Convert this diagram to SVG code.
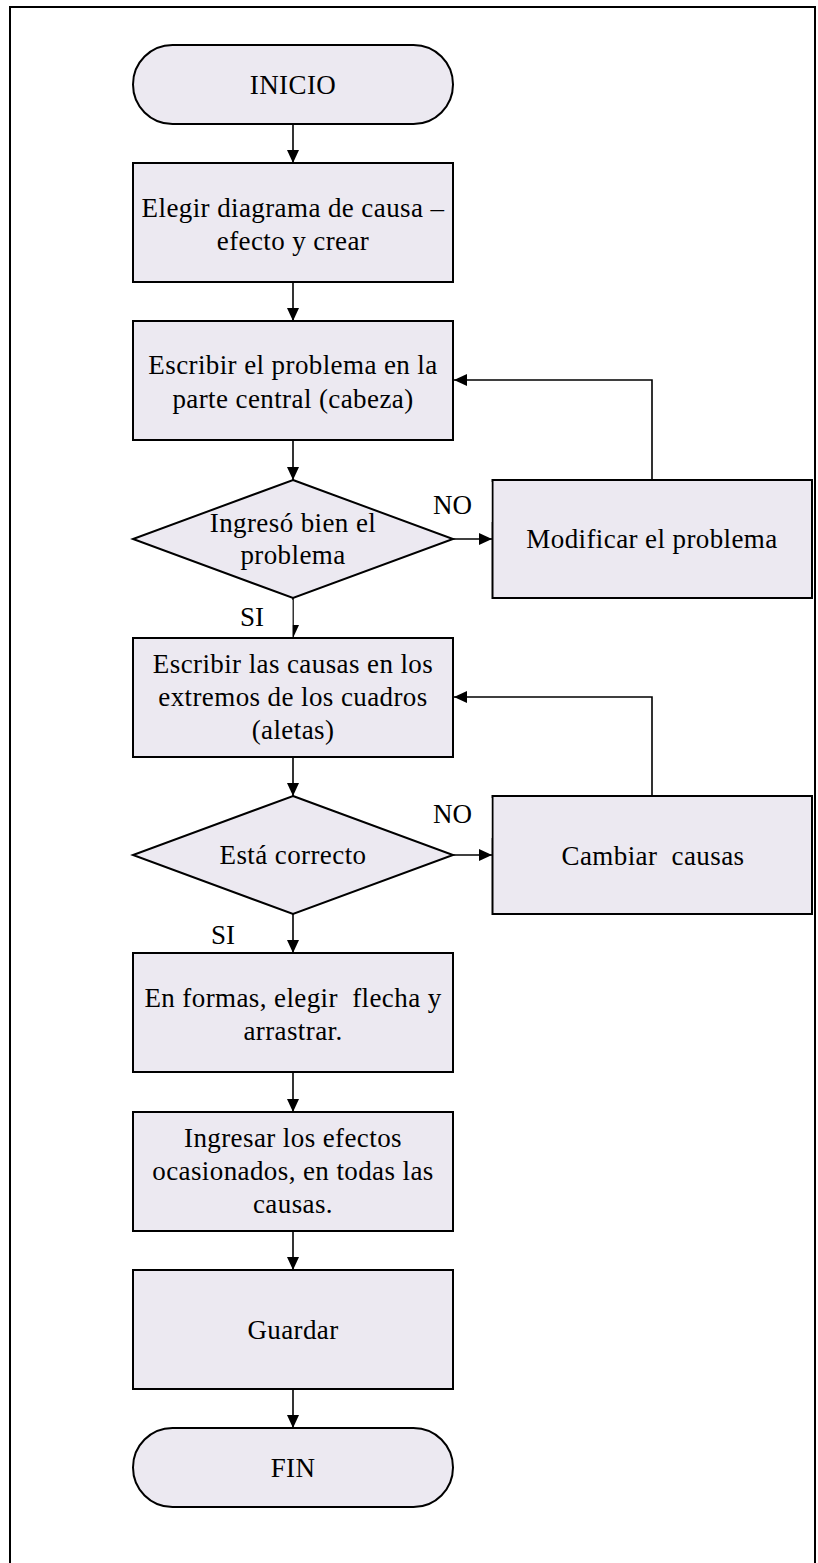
<svg xmlns="http://www.w3.org/2000/svg" width="818" height="1563" viewBox="0 0 818 1563">
  <style>
    .shape { fill: #ECE9F1; stroke: #000; stroke-width: 2; }
    .frame { fill: #fff; stroke: #000; stroke-width: 2; }
    .link { fill: none; stroke: #000; stroke-width: 1.6; }
    .lbl { font-family: "Liberation Serif", "Times New Roman", "DejaVu Serif", serif; font-size: 27px; letter-spacing: 0.4px; fill: #000; text-anchor: middle; }
    .tag { font-family: "Liberation Serif", "Times New Roman", "DejaVu Serif", serif; font-size: 27px; fill: #000; }
    .mask { fill: #fff; stroke: none; }
  </style>
  <defs>
    <marker id="arrow" viewBox="0 0 13 12" refX="13" refY="6" markerWidth="13" markerHeight="12" markerUnits="userSpaceOnUse" orient="auto">
      <path d="M0,0 L13,6 L0,12 Z" fill="#000"/>
    </marker>
  </defs>

  <!-- page frame (runs past the lower edge) -->
  <rect class="frame" x="10" y="7" width="805" height="1566"/>

  <!-- flow connectors -->
  <g id="connectors">
    <line class="link" x1="293" y1="124" x2="293" y2="163" marker-end="url(#arrow)"/>
    <line class="link" x1="293" y1="282" x2="293" y2="321" marker-end="url(#arrow)"/>
    <line class="link" x1="293" y1="440" x2="293" y2="480" marker-end="url(#arrow)"/>
    <line class="link" x1="293" y1="598" x2="293" y2="638" marker-end="url(#arrow)"/>
    <line class="link" x1="293" y1="757" x2="293" y2="796" marker-end="url(#arrow)"/>
    <line class="link" x1="293" y1="914" x2="293" y2="953" marker-end="url(#arrow)"/>
    <line class="link" x1="293" y1="1072" x2="293" y2="1112" marker-end="url(#arrow)"/>
    <line class="link" x1="293" y1="1231" x2="293" y2="1270" marker-end="url(#arrow)"/>
    <line class="link" x1="293" y1="1389" x2="293" y2="1428" marker-end="url(#arrow)"/>
    <!-- NO branches -->
    <line class="link" x1="453" y1="539" x2="492" y2="539" marker-end="url(#arrow)"/>
    <line class="link" x1="453" y1="855" x2="492" y2="855" marker-end="url(#arrow)"/>
    <!-- return loops -->
    <polyline class="link" points="652,480 652,380 454,380" marker-end="url(#arrow)"/>
    <polyline class="link" points="652,796 652,697 454,697" marker-end="url(#arrow)"/>
  </g>

  <g id="inicio">
    <rect class="shape" x="133" y="45" width="320" height="79" rx="39.5" ry="39.5"/>
    <text class="lbl" x="293" y="94">INICIO</text>
  </g>

  <g id="elegir">
    <rect class="shape" x="133" y="163" width="320" height="119"/>
    <text class="lbl" x="293" y="217">Elegir diagrama de causa –</text>
    <text class="lbl" x="293" y="250">efecto y crear</text>
  </g>

  <g id="escribir-problema">
    <rect class="shape" x="133" y="321" width="320" height="119"/>
    <text class="lbl" x="293" y="374">Escribir el problema en la</text>
    <text class="lbl" x="293" y="408">parte central (cabeza)</text>
  </g>

  <g id="decision-problema">
    <polygon class="shape" points="293,480 453,539 293,598 133,539"/>
    <text class="lbl" x="293" y="532">Ingresó bien el</text>
    <text class="lbl" x="293" y="564">problema</text>
  </g>

  <g id="modificar">
    <rect class="shape" x="492.5" y="480" width="319.5" height="118"/>
    <text class="lbl" x="652" y="548">Modificar el problema</text>
  </g>

  <g id="escribir-causas">
    <rect class="shape" x="133" y="638" width="320" height="119"/>
    <text class="lbl" x="293" y="673">Escribir las causas en los</text>
    <text class="lbl" x="293" y="706">extremos de los cuadros</text>
    <text class="lbl" x="293" y="739">(aletas)</text>
  </g>

  <g id="decision-correcto">
    <polygon class="shape" points="293,796 453,855 293,914 133,855"/>
    <text class="lbl" x="293" y="864">Está correcto</text>
  </g>

  <g id="cambiar">
    <rect class="shape" x="492.5" y="796" width="319.5" height="118"/>
    <text class="lbl" x="653" y="865" xml:space="preserve">Cambiar  causas</text>
  </g>

  <g id="flecha">
    <rect class="shape" x="133" y="953" width="320" height="119"/>
    <text class="lbl" x="293" y="1007" xml:space="preserve">En formas, elegir  flecha y</text>
    <text class="lbl" x="293" y="1040">arrastrar.</text>
  </g>

  <g id="efectos">
    <rect class="shape" x="133" y="1112" width="320" height="119"/>
    <text class="lbl" x="293" y="1147">Ingresar los efectos</text>
    <text class="lbl" x="293" y="1180">ocasionados, en todas las</text>
    <text class="lbl" x="293" y="1213">causas.</text>
  </g>

  <g id="guardar">
    <rect class="shape" x="133" y="1270" width="320" height="119"/>
    <text class="lbl" x="293" y="1339">Guardar</text>
  </g>

  <g id="fin">
    <rect class="shape" x="133" y="1428" width="320" height="79" rx="39.5" ry="39.5"/>
    <text class="lbl" x="293" y="1477">FIN</text>
  </g>

  <!-- branch labels with their white text boxes -->
  <g id="labels">
    <rect class="mask" x="421" y="482" width="70.5" height="40"/>
    <text class="tag" x="433" y="514">NO</text>
    <rect class="mask" x="421" y="798" width="70.5" height="40"/>
    <text class="tag" x="433" y="823">NO</text>
    <rect class="mask" x="213" y="600" width="79.5" height="37"/>
    <text class="tag" x="240" y="626">SI</text>
    <text class="tag" x="211" y="944">SI</text>
  </g>
</svg>
